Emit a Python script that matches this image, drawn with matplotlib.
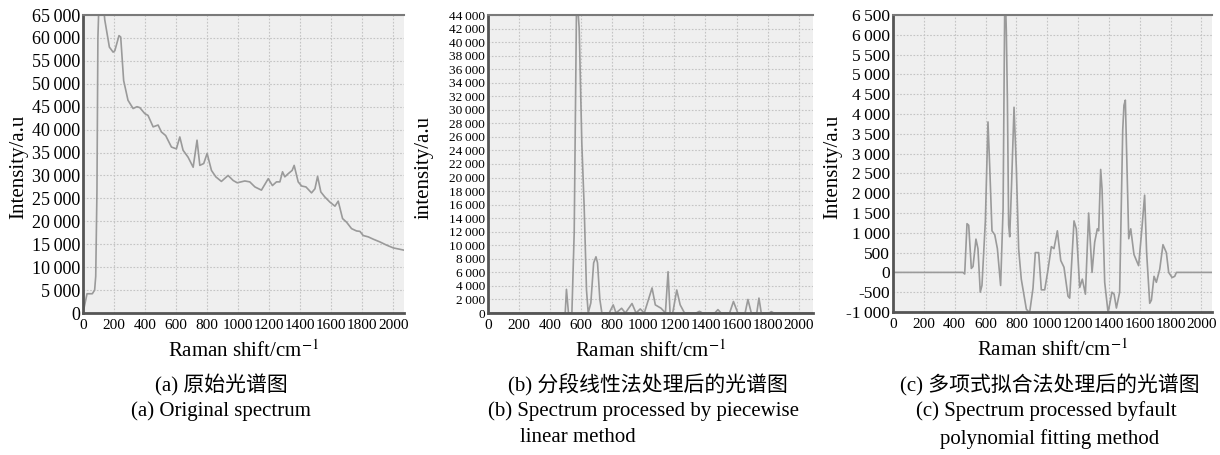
import matplotlib
matplotlib.use("Agg")
import matplotlib.pyplot as plt
from matplotlib.ticker import FixedLocator, FuncFormatter

plt.rcParams['mathtext.fontset'] = 'stix'
SERIF = ['Liberation Serif', 'DejaVu Serif']
CJK = ['Liberation Serif', 'Noto Sans CJK SC', 'DejaVu Sans']

# ---- data (a) original spectrum ----
a_x = [0, 26, 60, 75, 82, 90, 96, 105, 125, 140, 170, 194, 205, 232, 243, 262, 290, 323, 348, 366,
       398, 419, 452, 484, 505, 533, 570, 602, 624, 645, 677, 710, 735, 753, 778, 800, 828, 856,
       892, 935, 968, 994, 1043, 1075, 1108, 1150, 1194, 1221, 1247, 1269, 1286, 1301, 1323, 1348,
       1361, 1387, 1409, 1437, 1473, 1495, 1512, 1533, 1559, 1591, 1624, 1645, 1673, 1699, 1731,
       1763, 1785, 1806, 1839, 1871, 1914, 1957, 2000, 2070]
a_y = [0, 4200, 4200, 5000, 8000, 26700, 60000, 70000, 70000, 64000, 58000, 56900, 57200, 60500,
       60200, 50700, 46400, 44600, 45000, 44800, 43500, 43100, 40600, 41000, 39500, 38700, 36200,
       35800, 38400, 35500, 34000, 31800, 37700, 32200, 32600, 34800, 31100, 29700, 28700, 30000,
       28900, 28400, 28800, 28600, 27500, 26800, 29300, 27800, 28600, 28600, 30800, 29700, 30400,
       31100, 32200, 28600, 27700, 27500, 26200, 27100, 29800, 26400, 25300, 24200, 23300, 24400,
       20600, 19800, 18400, 17900, 17800, 16900, 16600, 16100, 15500, 14800, 14200, 13700]

# ---- data (b) piecewise linear ----
b_x = [0, 497, 505, 518, 540, 555, 570, 575, 587, 604, 619, 634, 645, 662, 680, 695, 705, 720, 733,
       780, 806, 824, 860, 884, 927, 953, 980, 1006, 1056, 1077, 1114, 1142, 1159, 1172, 1189,
       1215, 1237, 1265, 1340, 1361, 1380, 1460, 1480, 1500, 1555, 1580, 1608, 1655, 1673, 1695,
       1730, 1744, 1759, 1810, 1824, 1840, 2100]
b_y = [0, 0, 3500, 0, 0, 12000, 46000, 46000, 42000, 25000, 15700, 3400, 0, 1500, 7400, 8300, 7400,
       2000, 0, 0, 1200, 0, 700, 0, 1400, 0, 600, 0, 3700, 1200, 700, 0, 6100, 0, 0, 3400, 1200, 0,
       0, 250, 0, 0, 500, 0, 0, 1700, 0, 0, 2000, 0, 0, 2200, 0, 0, 200, 0, 0]

# ---- data (c) polynomial fitting ----
c_x = [0, 454, 465, 480, 491, 508, 519, 538, 551, 566, 577, 599, 616, 627, 642, 660, 677, 698, 714,
       724, 730, 735, 742, 750, 757, 768, 785, 800, 815, 832, 865, 886, 908, 923, 945, 962, 984,
       1005, 1027, 1044, 1066, 1088, 1109, 1135, 1146, 1174, 1189, 1211, 1228, 1248, 1269, 1291,
       1308, 1325, 1334, 1347, 1356, 1373, 1395, 1420, 1434, 1449, 1470, 1490, 1498, 1507, 1529,
       1542, 1563, 1593, 1611, 1632, 1645, 1665, 1676, 1693, 1708, 1730, 1751, 1773, 1788, 1810,
       1827, 1838, 2070]
c_y = [0, 0, -40, 1230, 1190, 100, 150, 840, 600, -500, -330, 1300, 3800, 2700, 1050, 950, 600,
       -330, 1600, 6450, 6800, 6100, 4350, 1200, 900, 2100, 4170, 2640, 590, -170, -930, -1020,
       -400, 500, 500, -440, -440, 60, 650, 600, 1050, 300, 130, -600, -650, 1300, 1100, -380,
       -170, -550, 1500, 0, 760, 1100, 1050, 2600, 2100, -250, -1020, -500, -550, -900, -500, 3600,
       4220, 4350, 850, 1100, 450, 170, 950, 1950, 500, -780, -700, -100, -250, 80, 700, 500, 0,
       -130, -100, 0, 0]

x_ticks = [0, 200, 400, 600, 800, 1000, 1200, 1400, 1600, 1800, 2000]
a_yticks = list(range(0, 65001, 5000))
b_yticks = list(range(0, 44001, 2000))
c_yticks = list(range(-1000, 6501, 500))

ylabels = ['Intensity/a.u', 'intensity/a.u', 'Intensity/a.u']
cn_caps = ['(a) 原始光谱图', '(b) 分段线性法处理后的光谱图', '(c) 多项式拟合法处理后的光谱图']

W, H = 1220, 455
fig = plt.figure(figsize=(W / 100, H / 100), dpi=100)


def fmt(v, pos):
    v = int(round(v))
    s = f"{abs(v):,}".replace(',', '\u2009')
    return ('-' if v < 0 else '') + s


def make_ax(l, r, t, b):
    return fig.add_axes([l / W, 1 - b / H, (r - l) / W, (b - t) / H])


panels = [
    (make_ax(83, 404, 15, 313), a_x, a_y, (0, 2069), (0, 65000), a_yticks, 13, -0.172),
    (make_ax(488, 813, 15, 313), b_x, b_y, (0, 2092), (0, 44000), b_yticks, 9.6, -0.166),
    (make_ax(893, 1212, 15, 312), c_x, c_y, (0, 2069), (-1000, 6500), c_yticks, 12.5, -0.160),
]

frame_col = '#7a7a7a'
for i, (ax, xs, ys, xl, yl, yt, ysz, ylx) in enumerate(panels):
    ax.set_facecolor('#efefef')
    ax.plot(xs, ys, color='#9a9a9a', lw=1.2, solid_joinstyle='round')
    ax.set_xlim(*xl)
    ax.set_ylim(*yl)
    ax.xaxis.set_major_locator(FixedLocator(x_ticks))
    ax.yaxis.set_major_locator(FixedLocator(yt))
    ax.yaxis.set_major_formatter(FuncFormatter(fmt))
    ax.xaxis.set_major_formatter(FuncFormatter(lambda v, p: f"{int(v)}"))
    ax.grid(True, color='#c4c4c4', linestyle=(0, (1.5, 1.5)), lw=0.8)
    ax.tick_params(axis='x', length=0, pad=4, labelsize=11)
    ax.tick_params(axis='y', length=0, pad=2, labelsize=ysz)
    for lab in ax.get_xticklabels() + ax.get_yticklabels():
        lab.set_family(SERIF)
    for side in ['left', 'bottom']:
        ax.spines[side].set_color('#555555')
        ax.spines[side].set_linewidth(2.0)
    ax.spines['top'].set_color(frame_col)
    ax.spines['top'].set_linewidth(1.5)
    ax.spines['right'].set_visible(False)
    ax.set_ylabel(ylabels[i], family=SERIF, fontsize=15)
    ax.yaxis.set_label_coords(ylx, 0.49)
    ax.set_xlabel(r'Raman shift/cm$^{-1}$', family=SERIF, fontsize=15, labelpad=6)

# captions
cn_x = [221, 648, 1050]
for i in range(3):
    fig.text(cn_x[i] / W, 1 - 385 / H, cn_caps[i], family=CJK, fontsize=15, ha='center', va='center')
fig.text(221 / W, 1 - 411 / H, '(a) Original spectrum', family=SERIF, fontsize=15, ha='center', va='center')
fig.text(488 / W, 1 - 411 / H, '(b) Spectrum processed by piecewise', family=SERIF, fontsize=15, ha='left', va='center')
fig.text(520 / W, 1 - 438 / H, 'linear method', family=SERIF, fontsize=15, ha='left', va='center')
fig.text(1046 / W, 1 - 411 / H, '(c) Spectrum processed byfault', family=SERIF, fontsize=15, ha='center', va='center')
fig.text(1050 / W, 1 - 439 / H, 'polynomial fitting method', family=SERIF, fontsize=15, ha='center', va='center')

fig.savefig('out.png', dpi=100, facecolor='white')
